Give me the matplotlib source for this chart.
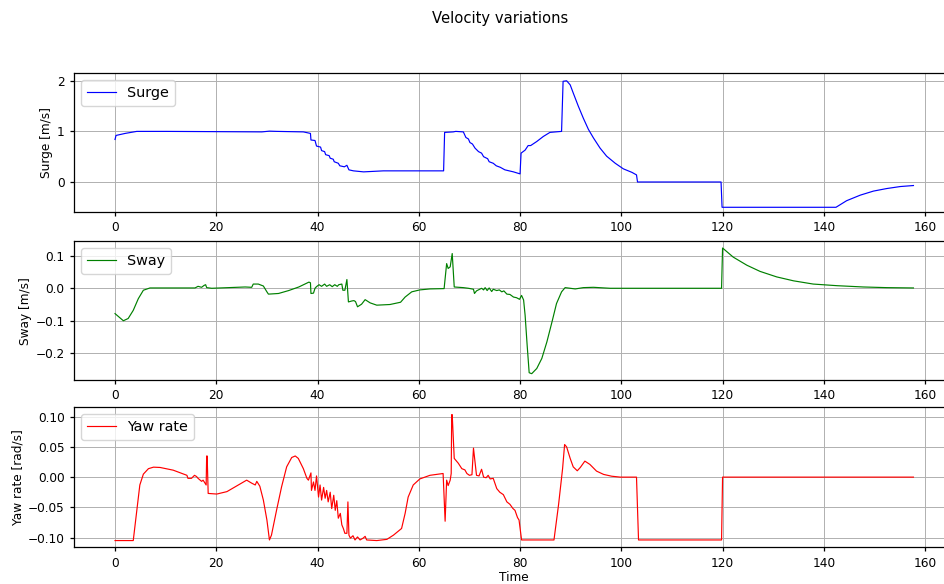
import matplotlib
matplotlib.use('Agg')
import matplotlib.pyplot as plt

# surge [m/s]
t_surge = [0, 0.2, 2.0, 4.3, 10, 20, 29.0, 30.5, 32, 37.2,
           38.6, 38.7, 39.5, 39.8, 40.6, 40.8, 41.4, 41.6, 42.3, 42.5,
           43.1, 43.3, 44.1, 44.4, 45.3, 45.8, 46.2, 47.1, 49.1, 53.0,
           64.9, 65.1, 66.8, 67.3, 68.8, 69.3, 69.8, 70.1, 70.6, 71.1,
           71.8, 72.4, 72.8, 73.6, 73.9, 74.7, 75.3, 76.1, 77.0, 78.7,
           80.0, 80.2, 81.0, 81.6, 82.1, 83.3, 84.6, 85.9, 88.2, 88.5,
           89.2, 89.9, 90.5, 91.5, 92.5, 93.5, 94.5, 95.8, 97.1, 98.8,
           100.4, 102.1, 103.0, 103.2, 119.7, 119.9, 142.4, 144.5, 147.2, 149.8,
           152.4, 155.1, 157.7]
surge = [0.84, 0.92, 0.96, 1.0, 1.0, 0.995, 0.99, 1.005, 1.0, 0.99,
         0.96, 0.83, 0.82, 0.71, 0.69, 0.62, 0.60, 0.54, 0.52, 0.47,
         0.45, 0.40, 0.37, 0.32, 0.30, 0.33, 0.24, 0.22, 0.20, 0.22,
         0.22, 0.98, 0.99, 1.0, 0.99, 0.88, 0.85, 0.78, 0.75, 0.67,
         0.60, 0.57, 0.50, 0.46, 0.40, 0.37, 0.32, 0.29, 0.24, 0.20,
         0.16, 0.57, 0.63, 0.72, 0.72, 0.80, 0.90, 0.98, 1.0, 1.99,
         2.0, 1.92, 1.76, 1.50, 1.26, 1.04, 0.87, 0.67, 0.51, 0.37,
         0.26, 0.19, 0.14, 0.0, 0.0, -0.5, -0.5, -0.37, -0.26, -0.18,
         -0.13, -0.09, -0.07]

# sway [m/s]
t_sway = [0, 1.65, 2.6, 3.6, 4.6, 5.6, 6.9, 15.8, 16.4, 17.1,
          17.6, 17.9, 18.1, 19.1, 25.7, 27.0, 27.3, 28.3, 29.3, 30.0,
          30.3, 32.3, 34.3, 36.3, 38.3, 38.6, 38.7, 39.2, 39.5, 39.8,
          40.3, 40.8, 41.4, 41.8, 42.4, 42.9, 43.4, 43.9, 44.2, 44.8,
          45.0, 45.4, 45.8, 46.1, 46.8, 47.2, 47.5, 47.9, 48.7, 49.4,
          50.4, 51.7, 54.3, 56.4, 57.3, 58.6, 60.2, 62.2, 65.0, 65.5,
          65.8, 66.2, 66.6, 67.0, 68.8, 69.8, 70.8, 71.0, 71.4, 72.4,
          72.8, 73.1, 73.5, 73.9, 74.4, 74.7, 75.4, 75.9, 76.4, 76.8,
          77.4, 78.0, 78.7, 79.3, 79.9, 80.3, 80.7, 81.0, 81.4, 81.8,
          82.3, 83.3, 84.3, 85.3, 86.3, 87.2, 88.2, 88.9, 89.9, 90.9,
          92.5, 94.5, 97.8, 119.8, 120.0, 122.1, 124.8, 127.4, 130.7, 134.0,
          137.9, 142.6, 147.8, 152.4, 157.7]
sway = [-0.078, -0.100, -0.093, -0.068, -0.032, -0.006, 0.001, 0.001, 0.006, 0.003,
        0.009, 0.011, 0.002, 0.0, 0.004, 0.003, 0.013, 0.013, 0.007, -0.011,
        -0.018, -0.016, -0.007, 0.004, 0.019, 0.017, -0.016, -0.015, 0.0, 0.005,
        0.011, 0.006, 0.013, 0.006, 0.011, 0.005, 0.011, 0.006, 0.011, 0.013,
        -0.006, -0.006, 0.027, -0.042, -0.039, -0.038, -0.041, -0.057, -0.049, -0.035,
        -0.045, -0.052, -0.050, -0.043, -0.027, -0.011, -0.005, -0.002, -0.001, 0.076,
        0.061, 0.066, 0.107, 0.004, 0.002, 0.0, -0.003, -0.016, -0.008, 0.0,
        -0.005, 0.002, -0.007, 0.001, -0.010, -0.003, -0.007, -0.005, -0.011, -0.008,
        -0.018, -0.019, -0.027, -0.029, -0.034, -0.022, -0.036, -0.083, -0.175, -0.260,
        -0.263, -0.247, -0.216, -0.165, -0.104, -0.047, -0.011, 0.002, 0.0, -0.002,
        0.002, 0.003, 0.0, 0.0, 0.124, 0.096, 0.071, 0.052, 0.035, 0.023,
        0.013, 0.008, 0.004, 0.002, 0.001]

# yaw rate [rad/s]
t_yaw = [0, 3.6, 4.3, 4.9, 5.6, 6.6, 7.6, 8.9, 11.5, 14.2,
         14.4, 15.1, 15.7, 16.1, 16.4, 17.1, 17.4, 18.0, 18.1, 18.2,
         18.4, 20.1, 22.1, 26.0, 27.0, 27.7, 28.0, 28.6, 29.3, 30.0,
         30.5, 30.9, 31.9, 32.9, 33.9, 34.9, 35.6, 36.2, 37.2, 37.9,
         38.2, 38.7, 38.8, 39.2, 39.5, 39.8, 40.2, 40.5, 40.8, 41.2,
         41.5, 41.8, 42.1, 42.5, 42.8, 43.2, 43.5, 43.8, 44.1, 44.5,
         44.8, 45.1, 45.4, 45.8, 46.0, 46.2, 46.5, 47.0, 47.4, 47.9,
         48.4, 49.0, 49.4, 49.7, 51.7, 53.7, 55.0, 56.6, 57.3, 57.9,
         58.9, 60.2, 62.2, 64.8, 65.2, 65.5, 65.8, 66.2, 66.4, 66.5,
         66.6, 67.0, 67.8, 68.5, 69.1, 69.5, 70.0, 70.5, 70.8, 71.1,
         71.4, 71.9, 72.4, 72.8, 73.3, 73.7, 74.1, 74.7, 75.4, 76.0,
         76.7, 77.4, 78.0, 78.6, 79.0, 79.5, 79.8, 80.3, 86.7, 87.6,
         88.2, 88.4, 88.8, 89.2, 89.9, 90.5, 91.3, 91.9, 92.8, 93.8,
         95.1, 96.5, 98.1, 99.8, 103.0, 103.4, 119.8, 120.0, 157.7]
yaw = [-0.105, -0.105, -0.055, -0.013, 0.005, 0.014, 0.0165, 0.016, 0.0115, 0.003,
       -0.002, -0.002, 0.003, 0.001, -0.002, -0.007, -0.005, -0.013, 0.035, 0.035,
       -0.027, -0.028, -0.024, -0.005, -0.010, -0.013, -0.007, -0.015, -0.038, -0.071,
       -0.104, -0.096, -0.055, -0.016, 0.017, 0.0325, 0.035, 0.031, 0.014, -0.002,
       -0.005, 0.007, -0.022, -0.008, -0.022, 0.002, -0.033, -0.013, -0.038, -0.017,
       -0.035, -0.022, -0.041, -0.025, -0.052, -0.030, -0.055, -0.039, -0.068, -0.060,
       -0.079, -0.085, -0.093, -0.093, -0.041, -0.096, -0.101, -0.097, -0.104, -0.099,
       -0.104, -0.101, -0.098, -0.104, -0.105, -0.103, -0.096, -0.085, -0.060, -0.033,
       -0.013, -0.003, 0.003, 0.006, -0.073, -0.005, -0.014, -0.005, 0.006, 0.1035,
       0.1035, 0.031, 0.023, 0.014, 0.012, 0.006, 0.003, 0.004, 0.048, 0.025,
       0.003, 0.002, 0.013, 0.0, -0.001, 0.003, -0.003, -0.002, -0.019, -0.025,
       -0.029, -0.041, -0.045, -0.052, -0.055, -0.067, -0.071, -0.104, -0.104, -0.046,
       0.0, 0.014, 0.054, 0.050, 0.031, 0.017, 0.0105, 0.016, 0.0265, 0.021,
       0.010, 0.0045, 0.0015, 0.0, 0.0, -0.104, -0.104, 0.0, 0.0]

# the reference looks like a default figure shrunk a bit, so scale fonts down
plt.rcParams.update({'font.size': 8.7, 'axes.linewidth': 0.9,
                     'xtick.major.width': 0.9, 'ytick.major.width': 0.9,
                     'xtick.major.size': 3.2, 'ytick.major.size': 3.2,
                     'grid.linewidth': 0.7})


def panel(fig, rect, t, values, color, name, ylabel, ylim, yticks):
    ax = fig.add_axes(rect)
    ax.plot(t, values, color=color, linewidth=0.85, label=name)
    ax.set_xlim(-8.1, 165.6)
    ax.set_ylim(*ylim)
    ax.set_yticks(yticks)
    ax.set_xticks([0, 20, 40, 60, 80, 100, 120, 140, 160])
    ax.set_ylabel(ylabel, labelpad=2.5)
    ax.grid(True)
    ax.legend(loc='upper left', fontsize=10.4)
    return ax


fig = plt.figure(figsize=(9.44, 5.84), dpi=100)
fig.suptitle('Velocity variations', x=0.53, y=0.982, fontsize=10.6)

# x scale: 0 at 115 px, 160 at 925 px, so the axes run past the right edge
left, width = 0.0784, 0.9316
panel(fig, [left, 0.637, width, 0.238], t_surge, surge, 'b', 'Surge',
      'Surge [m/s]', (-0.593, 2.154), [0, 1, 2])
panel(fig, [left, 0.349, width, 0.238], t_sway, sway, 'g', 'Sway',
      'Sway [m/s]', (-0.283, 0.145), [-0.2, -0.1, 0.0, 0.1])
ax3 = panel(fig, [left, 0.063, width, 0.24], t_yaw, yaw, 'r', 'Yaw rate',
            'Yaw rate [rad/s]', (-0.116, 0.116), [-0.10, -0.05, 0.0, 0.05, 0.10])
ax3.set_xlabel('Time', labelpad=1)

plt.savefig('out.png', dpi=100)
plt.close(fig)
